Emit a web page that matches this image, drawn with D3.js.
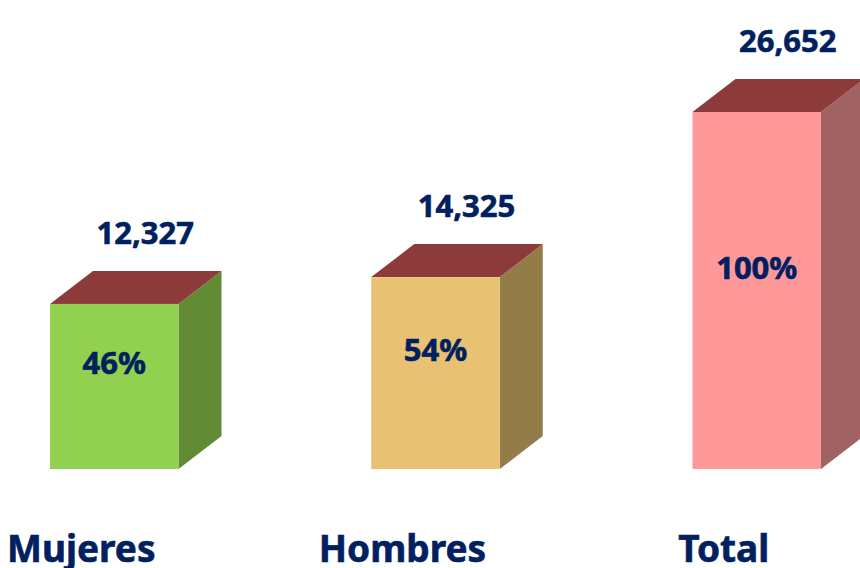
<!DOCTYPE html>
<html>
  <head>
    <meta charset="utf-8">
    <script src="https://d3js.org/d3.v7.min.js"></script>
    <style>
      body { margin: 0; background: #fff; }
      text { font-family: "Noto Sans", "Open Sans", sans-serif; font-weight: bold; fill: #002060; stroke: #002060; stroke-width: 0.6px; }
    </style>
  </head>
  <body>
    <svg width="860" height="568"></svg>
    <script>

    // chart data
    var categories = ["Mujeres", "Hombres", "Total"];
    var values = [12327, 14325, 26652];
    var percents = ["46%", "54%", "100%"];

    // face colours: front, side
    var frontColors = ["#92d050", "#e8c173", "#ff9999"];
    var sideColors = ["#618a35", "#947c48", "#a06262"];
    var topColor = "#8c3a3a";

    var svg = d3.select("svg");

    // depth of the 3d box
    var dx = 43, dy = 33;

    var x = d3.scaleBand()
      .domain(categories)
      .range([50, 821])
      .paddingInner(0.6)
      .paddingOuter(0);

    var y = d3.scaleLinear()
      .domain([0, d3.max(values)])
      .range([469, 112]);

    var bars = svg.selectAll("g.bar")
      .data(categories)
      .enter()
      .append("g")
      .attr("class", "bar")
      .each(function(c, i) {
        var g = d3.select(this);
        var x0 = x(c), x1 = x(c) + x.bandwidth();
        var yt = y(values[i]), yb = y(0);

        // side face
        g.append("polygon")
          .attr("points", [[x1, yt], [x1 + dx, yt - dy], [x1 + dx, yb - dy], [x1, yb]].join(" "))
          .attr("fill", sideColors[i]);

        // top face
        g.append("polygon")
          .attr("points", [[x0, yt], [x0 + dx, yt - dy], [x1 + dx, yt - dy], [x1, yt]].join(" "))
          .attr("fill", topColor);

        // front face
        g.append("rect")
          .attr("x", x0)
          .attr("y", yt)
          .attr("width", x.bandwidth())
          .attr("height", yb - yt)
          .attr("fill", frontColors[i]);

        // value above the box
        g.append("text")
          .attr("x", x0 + x.bandwidth() / 2 + 31)
          .attr("y", yt - dy - 27)
          .attr("text-anchor", "middle")
          .style("font-size", "31px")
          .text(d3.format(",")(values[i]));

        // share inside the front face
        g.append("text")
          .attr("x", x0 + x.bandwidth() / 2)
          .attr("y", (yt + yb) / 2 - 12)
          .attr("text-anchor", "middle")
          .style("font-size", "31px")
          .text(percents[i]);

        // category label
        g.append("text")
          .attr("x", x0 + x.bandwidth() / 2 - 33)
          .attr("y", 562)
          .attr("text-anchor", "middle")
          .style("font-size", "37px")
          .text(c);
      });

    </script>
  </body>
</html>
